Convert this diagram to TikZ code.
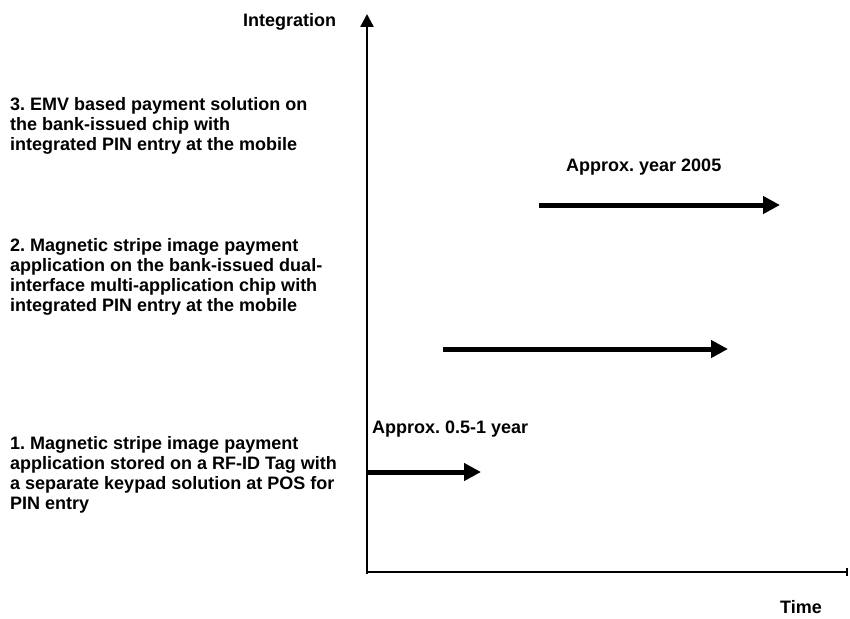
\documentclass[tikz,border=0pt]{standalone}
\usepackage{fontspec}
\setmainfont{Liberation Sans}
\usetikzlibrary{arrows.meta}
\frenchspacing
\begin{document}
\begin{tikzpicture}[x=1pt,y=-1pt,
  lbl/.style={inner sep=0pt,font=\fontsize{18}{20}\selectfont\bfseries,align=left},
  phase/.style={line width=5pt,-{Triangle[length=17pt,width=17pt]}},
  yaxis/.style={line width=2.4pt,-{Triangle[length=13pt,width=13pt]}},
  xaxis/.style={line width=2pt,-{Bar[width=8pt,line width=2pt]}}]
\useasboundingbox (0,0) rectangle (850,618);
% axes
\coordinate (O) at (367,574);
\coordinate (ytop) at (367,14);
\coordinate (xO) at (366,572);
\coordinate (xend) at (848,572);
\draw[yaxis] (O) -- (ytop);
\draw[xaxis] (xO) -- (xend);
% axis labels
\node[lbl,anchor=base west] (ylab) at (243,27) {\frenchspacing Integration};
\node[lbl,anchor=base west] (xlab) at (780,613) {Time};
% stage texts
\node[lbl,anchor=north west] (s3) at (10,97) {\frenchspacing 3. EMV based payment solution on\\the bank-issued chip with\\integrated PIN entry at the mobile};
\node[lbl,anchor=north west] (s2) at (10,238) {\frenchspacing 2. Magnetic stripe image payment\\application on the bank-issued dual-\\interface multi-application chip with\\integrated PIN entry at the mobile};
\node[lbl,anchor=north west] (s1) at (10,436) {\frenchspacing 1. Magnetic stripe image payment\\application stored on a RF-ID Tag with\\a separate keypad solution at POS for\\PIN entry};
% period labels
\node[lbl,anchor=base west] (p3) at (566,171) {\frenchspacing Approx. year 2005};
\node[lbl,anchor=base west] (p1) at (372,433) {\frenchspacing Approx. 0.5-1 year};
% phase arrows
\coordinate (a3s) at (539,205);
\coordinate (a3e) at (780,205);
\coordinate (a2s) at (443,349);
\coordinate (a2e) at (728,349);
\coordinate (a1s) at (366,472);
\coordinate (a1e) at (481,472);
\draw[phase] (a3s) -- (a3e);
\draw[phase] (a2s) -- (a2e);
\draw[phase] (a1s) -- (a1e);
\end{tikzpicture}
\end{document}
